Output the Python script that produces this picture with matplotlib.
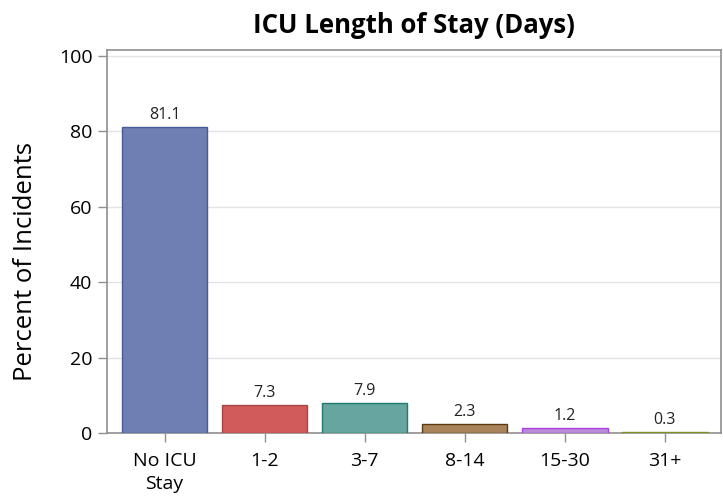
import matplotlib
matplotlib.use("Agg")
import matplotlib.pyplot as plt

categories = ["No ICU\nStay", "1-2", "3-7", "8-14", "15-30", "31+"]
percents = [81.1, 7.3, 7.9, 2.3, 1.2, 0.3]
fill_colors = ["#6F7EB3", "#D05B5B", "#66A5A0", "#A9845A", "#B98BD9", "#A3AD5C"]
edge_colors = ["#4A5A96", "#A84444", "#1F7A70", "#5A3A14", "#B040E0", "#7F8F20"]
yticks = [0, 20, 40, 60, 80, 100]

plt.rcParams['font.family'] = ['Open Sans', 'DejaVu Sans']

fig = plt.figure(figsize=(7.23, 4.97), dpi=100)
ax = fig.add_axes([0.148, 0.129, 0.849, 0.771])

x = list(range(len(categories)))
bars = ax.bar(x, percents, width=0.855, color=fill_colors, edgecolor=edge_colors,
              linewidth=1.0, zorder=3)
for b, v in zip(bars, percents):
    ax.annotate(f"{v:.1f}", (b.get_x() + b.get_width() / 2, v), xytext=(0, 3),
                textcoords="offset points", ha="center", va="bottom",
                fontsize=11.5, color="#222222")

ax.set_xlim(-0.575, 5.56)
ax.set_ylim(0, 101.7)
ax.set_yticks(yticks)
ax.set_xticks(x)
ax.set_xticklabels(categories, linespacing=1.35)
ax.yaxis.grid(True, color="#E3E3E3", linewidth=1.0, zorder=0)
ax.set_axisbelow(True)

for s in ax.spines.values():
    s.set_color("#8F8F8F")
    s.set_linewidth(1.2)
ax.tick_params(axis="both", colors="#8F8F8F", labelcolor="black", labelsize=14,
               length=6.5, width=1.0)
ax.tick_params(axis="x", pad=7)
ax.tick_params(axis="y", pad=4)

ax.set_ylabel("Percent of Incidents", fontsize=18.5)
ax.yaxis.set_label_coords(-0.112, 0.446)
ax.set_title("ICU Length of Stay (Days)", fontsize=18.5, fontweight="bold", pad=12)

fig.savefig("out.png", dpi=100)
